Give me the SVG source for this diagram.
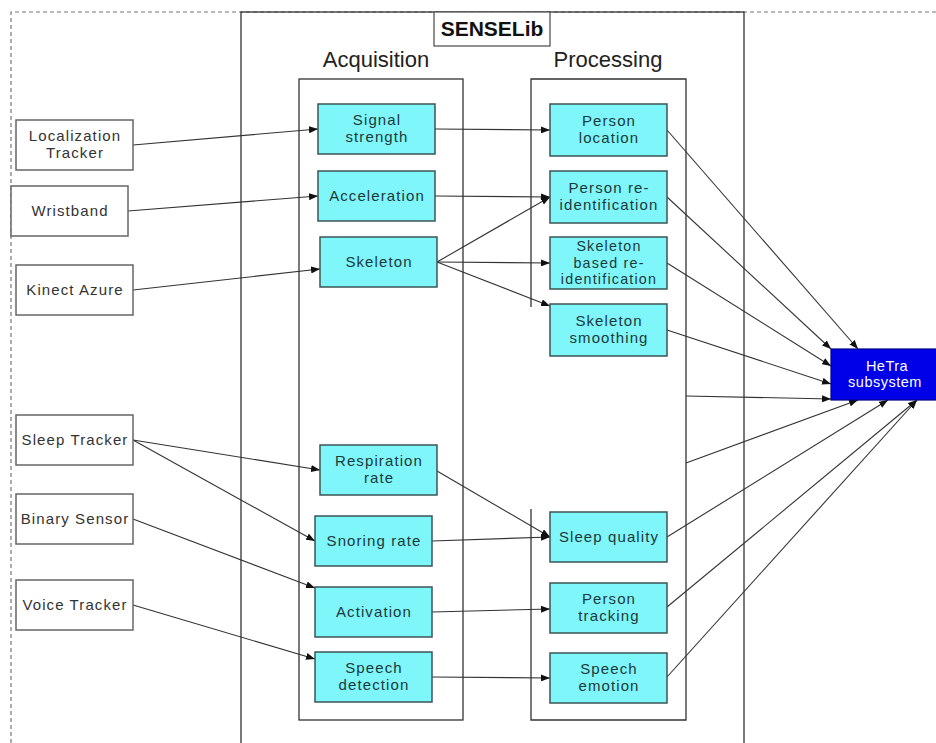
<svg xmlns="http://www.w3.org/2000/svg" width="936" height="743" viewBox="0 0 936 743">
<defs>
<marker id="arr" markerUnits="userSpaceOnUse" markerWidth="9" markerHeight="7" refX="9" refY="3.5" orient="auto">
<path d="M0,0 L9,3.5 L0,7 z" fill="#111"/>
</marker>
<style>
text{font-family:"Liberation Sans",Arial,sans-serif;text-anchor:middle}
.src rect{fill:#fff;stroke:#666;stroke-width:1.5}
.src text{font-size:15px;letter-spacing:1.1px;fill:#333}
.cy rect{fill:#7ef6fa;stroke:#3d5555;stroke-width:1.5}
.cy text{font-size:15px;letter-spacing:1.1px;fill:#1d3a3a}
.cy text.s{font-size:14.3px;letter-spacing:1.2px}
.frame{fill:none;stroke:#333;stroke-width:1.3}
.hdr{font-size:22px;fill:#222}
#connectors line{stroke:#333;stroke-width:1.1;marker-end:url(#arr)}
</style>
</defs>
<rect width="936" height="743" fill="#fff"/>
<g id="frames">
<path d="M11,743 V12 H936" fill="none" stroke="#777" stroke-width="1.2" stroke-dasharray="4,3"/>
<rect class="frame" x="241" y="12" width="503" height="745"/>
<rect x="434" y="12" width="116" height="34" fill="#fff" stroke="#555" stroke-width="1.3"/>
<text x="492" y="36" style="font-size:21px;font-weight:bold;fill:#111">SENSELib</text>
<text class="hdr" x="376" y="67">Acquisition</text>
<text class="hdr" x="608" y="67">Processing</text>
<rect class="frame" x="299" y="79" width="164" height="641"/>
<path class="frame" d="M531,307 V79 H686 V720 H531 V509"/>
</g>
<g id="connectors">
<line x1="133" y1="145" x2="318" y2="129"/>
<line x1="128" y1="211" x2="318" y2="196"/>
<line x1="133" y1="290" x2="320" y2="269"/>
<line x1="435" y1="129" x2="550" y2="130"/>
<line x1="435" y1="196" x2="550" y2="197"/>
<line x1="437" y1="262" x2="550" y2="197"/>
<line x1="437" y1="262" x2="550" y2="263"/>
<line x1="437" y1="262" x2="550" y2="306"/>
<line x1="133" y1="440" x2="320" y2="470"/>
<line x1="133" y1="440" x2="315" y2="541"/>
<line x1="133" y1="519" x2="315" y2="588"/>
<line x1="133" y1="605" x2="315" y2="659"/>
<line x1="437" y1="471" x2="550" y2="537"/>
<line x1="432" y1="541" x2="550" y2="537"/>
<line x1="432" y1="612" x2="550" y2="609"/>
<line x1="432" y1="677" x2="550" y2="678"/>
<line x1="667" y1="130" x2="858" y2="349"/>
<line x1="667" y1="197" x2="831" y2="349"/>
<line x1="667" y1="263" x2="831" y2="366"/>
<line x1="667" y1="330" x2="831" y2="384"/>
<line x1="686" y1="396" x2="831" y2="399"/>
<line x1="686" y1="463" x2="858" y2="400"/>
<line x1="667" y1="537" x2="888" y2="400"/>
<line x1="667" y1="607" x2="917" y2="400"/>
<line x1="667" y1="677" x2="917" y2="400"/>
</g>
<g id="src-localization" class="src"><rect x="16" y="120" width="117" height="50"/><text x="75" y="141">Localization</text><text x="75" y="158">Tracker</text></g>
<g id="src-wristband" class="src"><rect x="11" y="186" width="117" height="50"/><text x="70" y="216">Wristband</text></g>
<g id="src-kinect" class="src"><rect x="16" y="265" width="117" height="50"/><text x="75" y="295">Kinect Azure</text></g>
<g id="src-sleep" class="src"><rect x="16" y="415" width="117" height="50"/><text x="75" y="445">Sleep Tracker</text></g>
<g id="src-binary" class="src"><rect x="16" y="494" width="117" height="50"/><text x="75" y="524">Binary Sensor</text></g>
<g id="src-voice" class="src"><rect x="16" y="580" width="117" height="50"/><text x="75" y="610">Voice Tracker</text></g>
<g id="acq-signal" class="cy"><rect x="318" y="104" width="117" height="50"/><text x="377" y="125">Signal</text><text x="377" y="142">strength</text></g>
<g id="acq-acceleration" class="cy"><rect x="318" y="171" width="117" height="50"/><text x="377" y="201">Acceleration</text></g>
<g id="acq-skeleton" class="cy"><rect x="320" y="237" width="117" height="50"/><text x="379" y="267">Skeleton</text></g>
<g id="acq-respiration" class="cy"><rect x="320" y="445" width="117" height="50"/><text x="379" y="466">Respiration</text><text x="379" y="483">rate</text></g>
<g id="acq-snoring" class="cy"><rect x="315" y="516" width="117" height="50"/><text x="374" y="546">Snoring rate</text></g>
<g id="acq-activation" class="cy"><rect x="315" y="587" width="117" height="50"/><text x="374" y="617">Activation</text></g>
<g id="acq-speech" class="cy"><rect x="315" y="652" width="117" height="50"/><text x="374" y="673">Speech</text><text x="374" y="690">detection</text></g>
<g id="proc-location" class="cy"><rect x="550" y="104" width="117" height="52"/><text x="609" y="126">Person</text><text x="609" y="143">location</text></g>
<g id="proc-reid" class="cy"><rect x="550" y="171" width="117" height="52"/><text x="609" y="193">Person re-</text><text x="609" y="210">identification</text></g>
<g id="proc-skelreid" class="cy"><rect x="550" y="237" width="117" height="52"/><text class="s" x="609" y="251">Skeleton</text><text class="s" x="609" y="267.5">based re-</text><text class="s" x="609" y="284">identification</text></g>
<g id="proc-smoothing" class="cy"><rect x="550" y="304" width="117" height="52"/><text x="609" y="326">Skeleton</text><text x="609" y="343">smoothing</text></g>
<g id="proc-sleepquality" class="cy"><rect x="550" y="512" width="117" height="50"/><text x="609" y="542">Sleep quality</text></g>
<g id="proc-tracking" class="cy"><rect x="550" y="583" width="117" height="50"/><text x="609" y="604">Person</text><text x="609" y="621">tracking</text></g>
<g id="proc-emotion" class="cy"><rect x="550" y="653" width="117" height="50"/><text x="609" y="674">Speech</text><text x="609" y="691">emotion</text></g>
<g id="hetra"><rect x="831" y="349" width="110" height="51" fill="#0000e8" stroke="#00008a" stroke-width="1.2"/><text x="887" y="371" style="font-size:14.5px;letter-spacing:0.5px;fill:#fff">HeTra</text><text x="885" y="387" style="font-size:14.5px;letter-spacing:0.5px;fill:#fff">subsystem</text></g>
</svg>
